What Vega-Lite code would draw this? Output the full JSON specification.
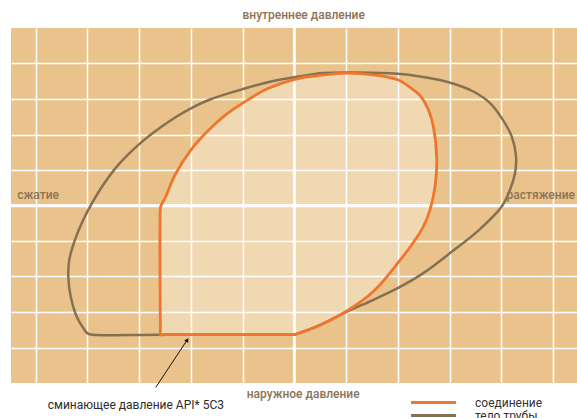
{
  "$schema": "https://vega.github.io/schema/vega-lite/v6.json",
  "width": 566,
  "height": 355,
  "autosize": {"type": "none"},
  "padding": {"left": 11, "top": 28, "right": 0, "bottom": 35},
  "background": "white",
  "config": {"view": {"fill": "#E9C38B", "stroke": null}, "font": "Roboto"},
  "datasets": {
    "curves": [
      {"series": "тело трубы", "i": 0, "x": 0, "y": -3.64},
      {"series": "тело трубы", "i": 1, "x": -2.6, "y": -3.64},
      {"series": "тело трубы", "i": 2, "x": -3.9, "y": -3.64},
      {"series": "тело трубы", "i": 2.5, "x": -3.99, "y": -3.61},
      {"series": "тело трубы", "i": 3, "x": -4.079, "y": -3.454},
      {"series": "тело трубы", "i": 4, "x": -4.207, "y": -3.127},
      {"series": "тело трубы", "i": 5, "x": -4.323, "y": -2.563},
      {"series": "тело трубы", "i": 6, "x": -4.369, "y": -2.0},
      {"series": "тело трубы", "i": 7, "x": -4.35, "y": -1.53},
      {"series": "тело трубы", "i": 8, "x": -4.24, "y": -0.966},
      {"series": "тело трубы", "i": 9, "x": -4.079, "y": -0.403},
      {"series": "тело трубы", "i": 10, "x": -3.983, "y": -0.121},
      {"series": "тело трубы", "i": 11, "x": -3.693, "y": 0.583},
      {"series": "тело трубы", "i": 12, "x": -3.403, "y": 1.146},
      {"series": "тело трубы", "i": 13, "x": -2.997, "y": 1.73},
      {"series": "тело трубы", "i": 14, "x": -2.597, "y": 2.188},
      {"series": "тело трубы", "i": 15, "x": -2.274, "y": 2.507},
      {"series": "тело трубы", "i": 16, "x": -1.998, "y": 2.738},
      {"series": "тело трубы", "i": 17, "x": -1.631, "y": 2.985},
      {"series": "тело трубы", "i": 18, "x": -0.999, "y": 3.279},
      {"series": "тело трубы", "i": 19, "x": -0.535, "y": 3.465},
      {"series": "тело трубы", "i": 20, "x": 0.108, "y": 3.639},
      {"series": "тело трубы", "i": 21, "x": 0.558, "y": 3.73},
      {"series": "тело трубы", "i": 22, "x": 1.204, "y": 3.746},
      {"series": "тело трубы", "i": 23, "x": 1.996, "y": 3.71},
      {"series": "тело трубы", "i": 24, "x": 2.427, "y": 3.634},
      {"series": "тело трубы", "i": 25, "x": 2.997, "y": 3.465},
      {"series": "тело трубы", "i": 26, "x": 3.457, "y": 3.211},
      {"series": "тело трубы", "i": 27, "x": 3.78, "y": 2.885},
      {"series": "тело трубы", "i": 28, "x": 4.006, "y": 2.462},
      {"series": "тело трубы", "i": 29, "x": 4.199, "y": 1.944},
      {"series": "тело трубы", "i": 30, "x": 4.282, "y": 1.38},
      {"series": "тело трубы", "i": 31, "x": 4.263, "y": 0.913},
      {"series": "тело трубы", "i": 32, "x": 4.166, "y": 0.442},
      {"series": "тело трубы", "i": 33, "x": 4.006, "y": -0.028},
      {"series": "тело трубы", "i": 34, "x": 3.57, "y": -0.685},
      {"series": "тело трубы", "i": 35, "x": 3.007, "y": -1.341},
      {"series": "тело трубы", "i": 36, "x": 2.491, "y": -1.904},
      {"series": "тело трубы", "i": 37, "x": 1.996, "y": -2.327},
      {"series": "тело трубы", "i": 38, "x": 1.525, "y": -2.656},
      {"series": "тело трубы", "i": 39, "x": 0.997, "y": -3.003},
      {"series": "тело трубы", "i": 40, "x": 0.431, "y": -3.408},
      {"series": "тело трубы", "i": 41, "x": 0, "y": -3.64},
      {"series": "соединение", "i": 0, "x": 0, "y": -3.64},
      {"series": "соединение", "i": 0.5, "x": -2.5, "y": -3.64},
      {"series": "соединение", "i": 1, "x": -2.59, "y": -3.64},
      {"series": "соединение", "i": 1.5, "x": -2.59, "y": -3.54},
      {"series": "соединение", "i": 1.8, "x": -2.59, "y": -0.1},
      {"series": "соединение", "i": 2, "x": -2.578, "y": 0.0},
      {"series": "соединение", "i": 3, "x": -2.5, "y": 0.208},
      {"series": "соединение", "i": 4, "x": -2.307, "y": 0.864},
      {"series": "соединение", "i": 5, "x": -1.998, "y": 1.569},
      {"series": "соединение", "i": 6, "x": -1.631, "y": 2.16},
      {"series": "соединение", "i": 7, "x": -1.341, "y": 2.54},
      {"series": "соединение", "i": 8, "x": -0.999, "y": 2.885},
      {"series": "соединение", "i": 9, "x": -0.535, "y": 3.279},
      {"series": "соединение", "i": 10, "x": 0.108, "y": 3.589},
      {"series": "соединение", "i": 11, "x": 0.431, "y": 3.654},
      {"series": "соединение", "i": 12, "x": 0.997, "y": 3.73},
      {"series": "соединение", "i": 13, "x": 1.525, "y": 3.682},
      {"series": "соединение", "i": 14, "x": 1.996, "y": 3.541},
      {"series": "соединение", "i": 15, "x": 2.298, "y": 3.259},
      {"series": "соединение", "i": 16, "x": 2.427, "y": 3.1},
      {"series": "соединение", "i": 17, "x": 2.587, "y": 2.706},
      {"series": "соединение", "i": 18, "x": 2.684, "y": 2.225},
      {"series": "соединение", "i": 19, "x": 2.75, "y": 1.287},
      {"series": "соединение", "i": 20, "x": 2.717, "y": 0.535},
      {"series": "соединение", "i": 21, "x": 2.62, "y": -0.121},
      {"series": "соединение", "i": 22, "x": 2.491, "y": -0.592},
      {"series": "соединение", "i": 23, "x": 2.298, "y": -1.04},
      {"series": "соединение", "i": 24, "x": 1.996, "y": -1.623},
      {"series": "соединение", "i": 25, "x": 1.525, "y": -2.423},
      {"series": "соединение", "i": 26, "x": 0.997, "y": -2.986},
      {"series": "соединение", "i": 27, "x": 0.431, "y": -3.408},
      {"series": "соединение", "i": 28, "x": 0, "y": -3.64}
    ]
  },
  "layer": [
    {
      "data": {"name": "curves"},
      "transform": [{"filter": "datum.series === 'соединение'"}],
      "mark": {"type": "line", "fill": "white", "fillOpacity": 0.35, "strokeWidth": 0, "stroke": null, "interpolate": "catmull-rom"},
      "encoding": {
        "x": {"field": "x", "type": "quantitative",
          "scale": {"domain": [-5.476, 5.46], "nice": false, "zero": false},
          "axis": {"values": [-5, -4, -3, -2, -1, 0, 1, 2, 3, 4, 5], "grid": true, "gridColor": "white", "gridWidth": 1.5, "gridOpacity": 1, "domain": false, "ticks": false, "labels": false, "title": null}},
        "y": {"field": "y", "type": "quantitative",
          "scale": {"domain": [-5, 5], "nice": false, "zero": false},
          "axis": {"values": [-4, -3, -2, -1, 0, 1, 2, 3, 4], "grid": true, "gridColor": "white", "gridWidth": 1.5, "gridOpacity": 1, "domain": false, "ticks": false, "labels": false, "title": null}},
        "order": {"field": "i", "type": "quantitative"}
      }
    },
    {
      "data": {"values": [{}]},
      "mark": {"type": "rule", "color": "white", "strokeWidth": 3, "opacity": 0.9},
      "encoding": {"x": {"datum": 0, "type": "quantitative"}}
    },
    {
      "data": {"values": [{}]},
      "mark": {"type": "rule", "color": "white", "strokeWidth": 3, "opacity": 0.9},
      "encoding": {"y": {"datum": 0, "type": "quantitative"}}
    },
    {
      "data": {"name": "curves"},
      "transform": [{"filter": "datum.series === 'тело трубы'"}],
      "mark": {"type": "line", "strokeWidth": 2.5, "interpolate": "catmull-rom"},
      "encoding": {
        "x": {"field": "x", "type": "quantitative"},
        "y": {"field": "y", "type": "quantitative"},
        "order": {"field": "i", "type": "quantitative"},
        "color": {"field": "series", "type": "nominal",
          "scale": {"domain": ["соединение", "тело трубы"], "range": ["#EE762D", "#857052"]},
          "legend": {"orient": "none", "legendX": 416, "legendY": 368, "title": null, "symbolType": "M-4.5,0H4.5", "symbolSize": 100, "symbolStrokeWidth": 3, "labelFontSize": 12, "labelColor": "#333333", "labelOffset": 35, "rowPadding": -1, "padding": 0}}
      }
    },
    {
      "data": {"name": "curves"},
      "transform": [{"filter": "datum.series === 'соединение'"}],
      "mark": {"type": "line", "strokeWidth": 2.8, "interpolate": "catmull-rom"},
      "encoding": {
        "x": {"field": "x", "type": "quantitative"},
        "y": {"field": "y", "type": "quantitative"},
        "order": {"field": "i", "type": "quantitative"},
        "color": {"field": "series", "type": "nominal"}
      }
    },
    {
      "data": {"values": [{}]},
      "mark": {"type": "rule", "color": "#111111", "strokeWidth": 1},
      "encoding": {
        "x": {"datum": -2.68, "type": "quantitative"},
        "y": {"datum": -5.127, "type": "quantitative"},
        "x2": {"datum": -2.06},
        "y2": {"datum": -3.76}
      }
    },
    {
      "data": {"values": [{}]},
      "mark": {"type": "point", "shape": "triangle-up", "filled": true, "color": "#111111", "size": 22, "angle": 33.5, "opacity": 1},
      "encoding": {
        "x": {"datum": -2.07, "type": "quantitative"},
        "y": {"datum": -3.79, "type": "quantitative"}
      }
    },
    {
      "data": {"values": [{}]},
      "mark": {"type": "text", "align": "center", "baseline": "middle", "fontSize": 12, "fontWeight": 500, "color": "#8A7356"},
      "encoding": {
        "x": {"datum": 0.18, "type": "quantitative"},
        "y": {"datum": 5.37, "type": "quantitative"},
        "text": {"value": "внутреннее давление"}
      }
    },
    {
      "data": {"values": [{}]},
      "mark": {"type": "text", "align": "center", "baseline": "middle", "fontSize": 12, "fontWeight": 500, "color": "#8A7356"},
      "encoding": {
        "x": {"datum": 0.17, "type": "quantitative"},
        "y": {"datum": -5.313, "type": "quantitative"},
        "text": {"value": "наружное давление"}
      }
    },
    {
      "data": {"values": [{}]},
      "mark": {"type": "text", "align": "left", "baseline": "middle", "fontSize": 12, "fontWeight": 500, "color": "#8A7356"},
      "encoding": {
        "x": {"datum": -5.355, "type": "quantitative"},
        "y": {"datum": 0.3, "type": "quantitative"},
        "text": {"value": "сжатие"}
      }
    },
    {
      "data": {"values": [{}]},
      "mark": {"type": "text", "align": "right", "baseline": "middle", "fontSize": 12, "fontWeight": 500, "color": "#8A7356"},
      "encoding": {
        "x": {"datum": 5.42, "type": "quantitative"},
        "y": {"datum": 0.3, "type": "quantitative"},
        "text": {"value": "растяжение"}
      }
    },
    {
      "data": {"values": [{}]},
      "mark": {"type": "text", "align": "left", "baseline": "middle", "fontSize": 12, "color": "#2B2B2B"},
      "encoding": {
        "x": {"datum": -4.767, "type": "quantitative"},
        "y": {"datum": -5.614, "type": "quantitative"},
        "text": {"value": "сминающее давление API* 5C3"}
      }
    }
  ]
}
